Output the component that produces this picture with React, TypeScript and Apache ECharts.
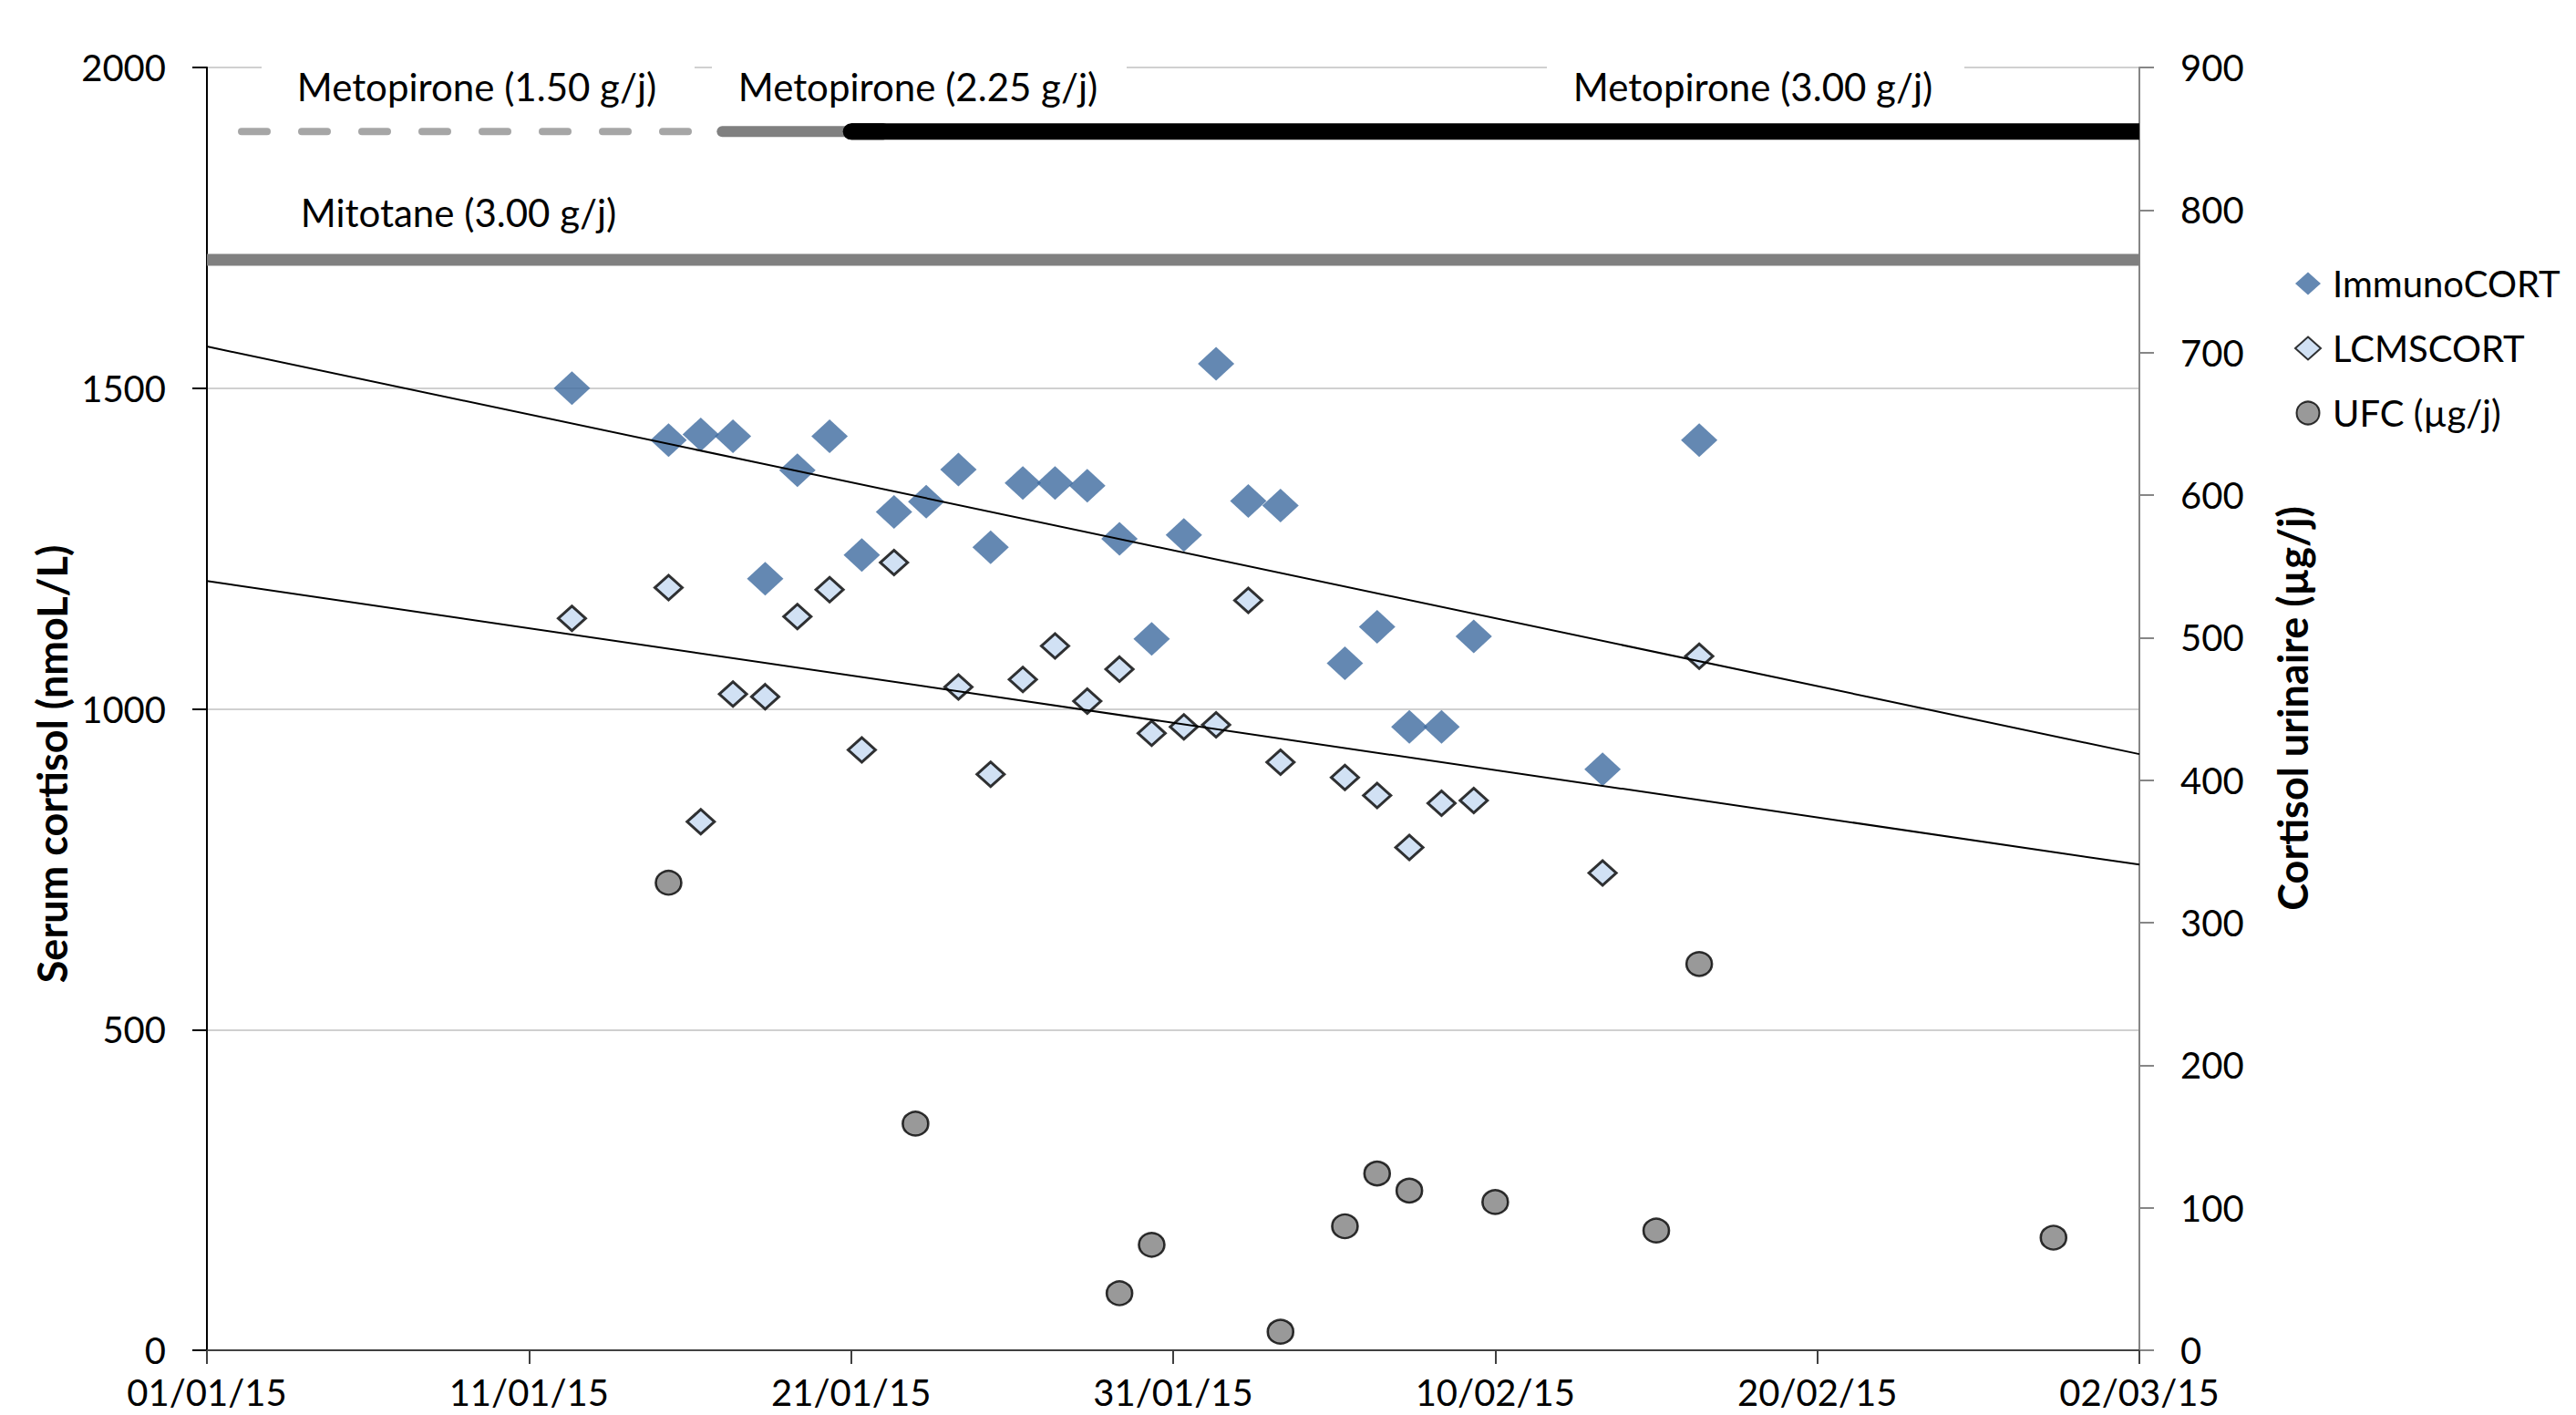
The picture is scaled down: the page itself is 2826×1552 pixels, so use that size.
import React, { useEffect, useRef } from "react";
import * as echarts from "echarts";

const xTickLabels = ["01/01/15", "11/01/15", "21/01/15", "31/01/15", "10/02/15", "20/02/15", "02/03/15"];

const immunoDates = [
  "2015-01-12T08:00", "2015-01-15T08:00", "2015-01-16T08:00", "2015-01-17T08:00", "2015-01-18T08:00",
  "2015-01-19T08:00", "2015-01-20T08:00", "2015-01-21T08:00", "2015-01-22T08:00", "2015-01-23T08:00",
  "2015-01-24T08:00", "2015-01-25T08:00", "2015-01-26T08:00", "2015-01-27T08:00", "2015-01-28T08:00",
  "2015-01-29T08:00", "2015-01-30T08:00", "2015-01-31T08:00", "2015-02-01T08:00", "2015-02-02T08:00",
  "2015-02-03T08:00", "2015-02-05T08:00", "2015-02-06T08:00", "2015-02-07T08:00", "2015-02-08T08:00",
  "2015-02-09T08:00", "2015-02-13T08:00", "2015-02-16T08:00",
];
const immunoValues = [
  1500, 1419, 1428, 1425, 1203, 1372, 1425, 1240, 1307, 1323, 1373, 1252, 1352, 1352, 1348,
  1265, 1109, 1271, 1538, 1324, 1317, 1071, 1128, 972, 972, 1113, 906, 1419,
];

const lcmsDates = [
  "2015-01-12T08:00", "2015-01-15T08:00", "2015-01-16T08:00", "2015-01-17T08:00", "2015-01-18T08:00",
  "2015-01-19T08:00", "2015-01-20T08:00", "2015-01-21T08:00", "2015-01-22T08:00", "2015-01-24T08:00",
  "2015-01-25T08:00", "2015-01-26T08:00", "2015-01-27T08:00", "2015-01-28T08:00", "2015-01-29T08:00",
  "2015-01-30T08:00", "2015-01-31T08:00", "2015-02-01T08:00", "2015-02-02T08:00", "2015-02-03T08:00",
  "2015-02-05T08:00", "2015-02-06T08:00", "2015-02-07T08:00", "2015-02-08T08:00", "2015-02-09T08:00",
  "2015-02-13T08:00", "2015-02-16T08:00",
];
const lcmsValues = [
  1141, 1189, 824, 1023, 1019, 1144, 1186, 936, 1228, 1034, 898, 1046, 1098, 1012, 1062,
  962, 972, 975, 1169, 917, 893, 865, 784, 853, 857, 744, 1082,
];

const ufcDates = [
  "2015-01-15T08:00", "2015-01-23T00:00", "2015-01-29T08:00", "2015-01-30T08:00", "2015-02-03T08:00",
  "2015-02-05T08:00", "2015-02-06T08:00", "2015-02-07T08:00", "2015-02-10T00:00", "2015-02-15T00:00",
  "2015-02-16T08:00", "2015-02-27T08:00",
];
const ufcValues = [328, 159, 40, 74, 13, 87, 124, 112, 104, 84, 271, 79];

const treatmentNames = ["Metopirone (1.50 g/j)", "Metopirone (2.25 g/j)", "Metopirone (3.00 g/j)", "Mitotane (3.00 g/j)"];
const treatmentStart = ["2015-01-01T00:00", "2015-01-17T00:00", "2015-01-21T00:00", "2015-01-01T00:00"];
const treatmentEnd = ["2015-01-17T00:00", "2015-01-21T00:00", "2015-03-02T00:00", "2015-03-02T00:00"];
const treatmentLevel = [1900, 1900, 1900, 1700];

const DAY0 = Date.UTC(2015, 0, 1);
const toDay = (s: string) => (Date.parse(s + ":00Z") - DAY0) / 86400000;
const X_MIN = 0;
const X_MAX = toDay("2015-03-02T00:00");

function regression(xs: number[], ys: number[]) {
  const n = xs.length;
  const mx = xs.reduce((a, b) => a + b, 0) / n;
  const my = ys.reduce((a, b) => a + b, 0) / n;
  let sxy = 0;
  let sxx = 0;
  for (let i = 0; i < n; i++) {
    sxy += (xs[i] - mx) * (ys[i] - my);
    sxx += (xs[i] - mx) * (xs[i] - mx);
  }
  const m = sxy / sxx;
  const b = my - m * mx;
  return [
    [X_MIN, b + m * X_MIN],
    [X_MAX, b + m * X_MAX],
  ];
}

const FONT = "Lato, 'Open Sans', sans-serif";

export default function App() {
  const ref = useRef<HTMLDivElement>(null);

  useEffect(() => {
    if (!ref.current) return;
    const chart = echarts.init(ref.current, undefined, { renderer: "svg" });

    const immunoX = immunoDates.map(toDay);
    const lcmsX = lcmsDates.map(toDay);
    const ufcX = ufcDates.map(toDay);

    const treatmentStyles: any[] = [
      { color: "#A6A6A6", width: 8, type: [28, 38], dashOffset: 28, cap: "round" },
      { color: "#808080", width: 12, type: "solid", cap: "round" },
      { color: "#000000", width: 18, type: "solid", cap: "butt" },
      { color: "#808080", width: 13, type: "solid", cap: "butt" },
    ];

    const treatmentSeries: any[] = treatmentNames.map((name, i) => ({
      name,
      type: "line",
      yAxisIndex: 0,
      symbol: "none",
      silent: true,
      clip: true,
      z: 2,
      lineStyle: treatmentStyles[i],
      data: [
        [toDay(treatmentStart[i]), treatmentLevel[i]],
        [toDay(treatmentEnd[i]), treatmentLevel[i]],
      ],
    }));

    // rounded start of the 3.00 g/j period (short segment with a round cap)
    treatmentSeries.push({
      name: treatmentNames[2] + " start",
      type: "line",
      yAxisIndex: 0,
      symbol: "none",
      silent: true,
      z: 2,
      lineStyle: { color: "#000000", width: 18, type: "solid", cap: "round" },
      data: [
        [toDay(treatmentStart[2]), treatmentLevel[2]],
        [toDay(treatmentStart[2]) + 1, treatmentLevel[2]],
      ],
    });

    const option: any = {
      animation: false,
      backgroundColor: "#ffffff",
      grid: { left: 227, right: 479, top: 74, bottom: 71, containLabel: false },
      legend: {
        data: ["ImmunoCORT", "LCMSCORT", "UFC (µg/j)"],
        orient: "vertical",
        left: 2512,
        top: 286,
        itemWidth: 28,
        itemHeight: 25,
        itemGap: 31,
        textStyle: { fontSize: 40, fontFamily: FONT, color: "#000", padding: [0, 0, 0, 8] },
      },
      xAxis: {
        type: "value",
        min: X_MIN,
        max: X_MAX,
        interval: 10,
        axisLine: { show: true, onZero: false, lineStyle: { color: "#404040", width: 2 } },
        axisTick: { show: true, inside: false, length: 15, lineStyle: { color: "#404040", width: 2 } },
        axisLabel: {
          margin: 26,
          fontSize: 40,
          fontFamily: FONT,
          color: "#000",
          formatter: (v: number) => xTickLabels[Math.round(v / 10)] ?? "",
        },
        splitLine: { show: false },
      },
      yAxis: [
        {
          type: "value",
          min: 0,
          max: 2000,
          interval: 500,
          position: "left",
          axisLine: { show: true, lineStyle: { color: "#000", width: 2 } },
          axisTick: { show: true, inside: false, length: 16, lineStyle: { color: "#000", width: 2 } },
          axisLabel: { margin: 45, fontSize: 40, fontFamily: FONT, color: "#000", formatter: (v: number) => String(v) },
          splitLine: { show: true, lineStyle: { color: "#D0D0D0", width: 2 } },
        },
        {
          type: "value",
          min: 0,
          max: 900,
          interval: 100,
          position: "right",
          axisLine: { show: true, lineStyle: { color: "#868686", width: 2 } },
          axisTick: { show: true, inside: false, length: 16, lineStyle: { color: "#868686", width: 2 } },
          axisLabel: { margin: 45, fontSize: 40, fontFamily: FONT, color: "#000", formatter: (v: number) => String(v) },
          splitLine: { show: false },
        },
      ],
      series: [
        ...treatmentSeries,
        {
          name: "ImmunoCORT",
          type: "scatter",
          yAxisIndex: 0,
          symbol: "diamond",
          symbolSize: [40, 37],
          z: 3,
          itemStyle: { color: "#3D6A9F" },
          data: immunoX.map((x, i) => [x, immunoValues[i]]),
        },
        {
          name: "LCMSCORT",
          type: "scatter",
          yAxisIndex: 0,
          symbol: "diamond",
          symbolSize: [30, 27],
          z: 3,
          itemStyle: { color: "#C6D9F1", borderColor: "#000", borderWidth: 3 },
          data: lcmsX.map((x, i) => [x, lcmsValues[i]]),
        },
        {
          name: "UFC (µg/j)",
          type: "scatter",
          yAxisIndex: 1,
          symbol: "circle",
          symbolSize: [28, 26],
          z: 3,
          itemStyle: { color: "#7F7F7F", borderColor: "#000", borderWidth: 2.5 },
          data: ufcX.map((x, i) => [x, ufcValues[i]]),
        },
        {
          name: "Linéaire (ImmunoCORT)",
          type: "line",
          yAxisIndex: 0,
          symbol: "none",
          silent: true,
          z: 4,
          lineStyle: { color: "#000", width: 2 },
          data: regression(immunoX, immunoValues),
        },
        {
          name: "Linéaire (LCMSCORT)",
          type: "line",
          yAxisIndex: 0,
          symbol: "none",
          silent: true,
          z: 4,
          lineStyle: { color: "#000", width: 2 },
          data: regression(lcmsX, lcmsValues),
        },
      ],
      graphic: [
        { type: "rect", z: 100, shape: { x: 287, y: 60, width: 475, height: 68 }, style: { fill: "#fff" } },
        { type: "rect", z: 100, shape: { x: 781, y: 60, width: 455, height: 68 }, style: { fill: "#fff" } },
        { type: "rect", z: 100, shape: { x: 1697, y: 60, width: 458, height: 68 }, style: { fill: "#fff" } },
        {
          type: "text", z: 101, x: 523, y: 95,
          style: { text: treatmentNames[0], fontSize: 42, fontFamily: FONT, fill: "#000", align: "center", verticalAlign: "middle" },
        },
        {
          type: "text", z: 101, x: 1007, y: 95,
          style: { text: treatmentNames[1], fontSize: 42, fontFamily: FONT, fill: "#000", align: "center", verticalAlign: "middle" },
        },
        {
          type: "text", z: 101, x: 1923, y: 95,
          style: { text: treatmentNames[2], fontSize: 42, fontFamily: FONT, fill: "#000", align: "center", verticalAlign: "middle" },
        },
        {
          type: "text", z: 101, x: 503, y: 233,
          style: { text: treatmentNames[3], fontSize: 42, fontFamily: FONT, fill: "#000", align: "center", verticalAlign: "middle" },
        },
        {
          type: "text", z: 101, x: 57, y: 838, rotation: Math.PI / 2,
          style: { text: "Serum cortisol (nmoL/L)", fontSize: 45, fontWeight: "bold", fontFamily: FONT, fill: "#000", align: "center", verticalAlign: "middle" },
        },
        {
          type: "text", z: 101, x: 2515, y: 777, rotation: Math.PI / 2,
          style: { text: "Cortisol urinaire (µg/j)", fontSize: 45, fontWeight: "bold", fontFamily: FONT, fill: "#000", align: "center", verticalAlign: "middle" },
        },
      ],
    };

    chart.setOption(option);
    return () => {
      chart.dispose();
    };
  }, []);

  return (
    <div
      ref={ref}
      style={{ position: "fixed", left: 0, top: 0, width: 2826, height: 1552, background: "#fff" }}
    />
  );
}
